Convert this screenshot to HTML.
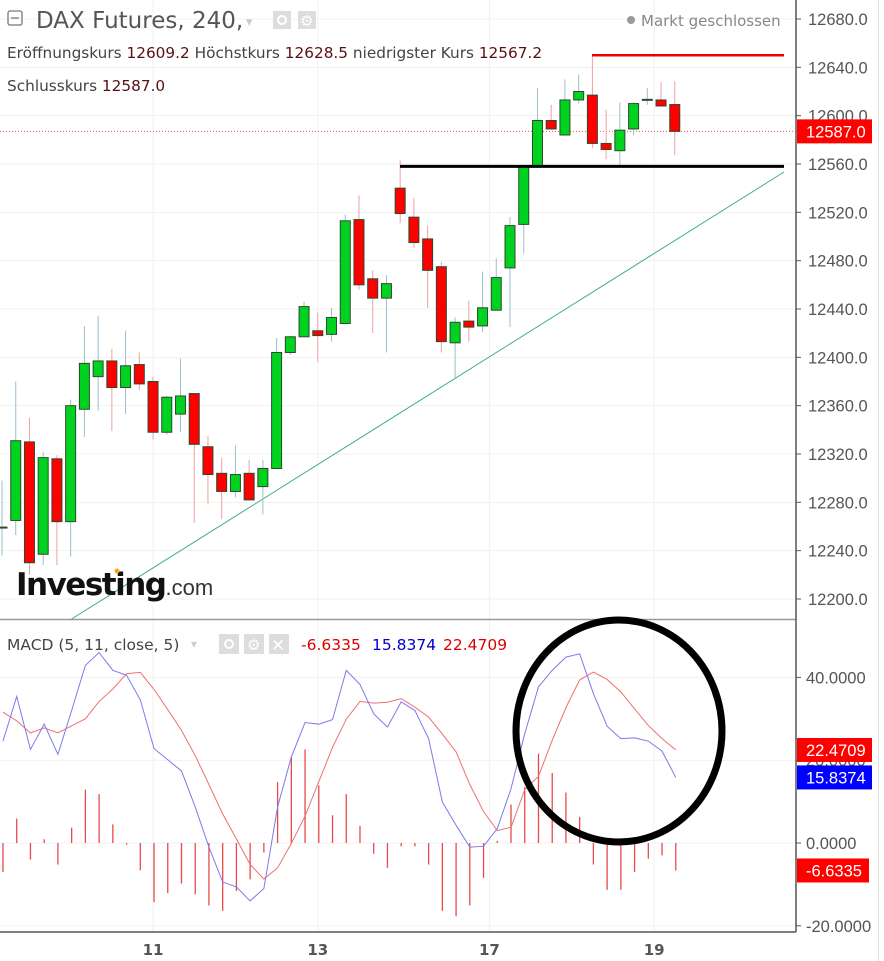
<!DOCTYPE html>
<html><head><meta charset="utf-8">
<style>
html,body{margin:0;padding:0;background:#fff;}
body{width:884px;height:961px;overflow:hidden;position:relative;font-family:"Liberation Sans","DejaVu Sans",sans-serif;}
svg{position:absolute;left:0;top:0;}
.lbl{font-family:"DejaVu Sans","Liberation Sans",sans-serif;}
</style></head>
<body>
<svg id="chart" width="884" height="961" xmlns="http://www.w3.org/2000/svg" xml:space="preserve"></svg>
<script>
const opens=[12259,12265,12330,12237,12316,12264,12357,12384,12397,12375,12394,12380,12338,12353,12370,12326,12304,12289,12304,12293,12308,12404,12417,12422,12419,12428,12514,12465,12449,12540,12516,12498,12475,12412,12430,12426,12439,12474,12510,12558,12596,12584,12613,12617,12577,12571,12589,12613,12613,12609.2];
const closes=[12259.5,12331,12230,12317,12264,12360,12395,12397,12375,12393,12378,12338,12367,12368,12328,12303,12289,12303,12282,12308,12404,12417,12442,12418,12433,12513,12460,12449,12461,12519,12495,12472,12413,12429,12425,12441,12466,12509,12558,12596,12589,12613,12620,12577,12572,12588,12610,12613.5,12608,12587.0];
const highs=[12298,12380,12350,12322,12319,12365,12426,12434,12407,12422,12404,12384,12368,12399,12370,12335,12317,12327,12315,12315,12416,12418,12446,12437,12441,12518,12534,12472,12468,12563,12532,12509,12479,12433,12447,12471,12482,12516,12558,12623,12609,12630,12634,12650,12605,12611,12611,12623,12628,12628.5];
const lows=[12236,12253,12220,12228,12228,12235,12334,12356,12339,12353,12373,12332,12336,12338,12263,12279,12266,12284,12282,12270,12308,12402,12417,12396,12413,12428,12456,12420,12404,12511,12491,12441,12404,12383,12413,12421,12439,12425,12486,12558,12589,12584,12610,12573,12564,12557,12584,12609,12608,12567.2];
const macd=[24.6,35.4,22.6,28.7,21.4,32.0,42.9,46.0,41.7,40.5,34.6,22.8,20.1,17.4,8.7,-1.0,-9.4,-10.6,-14.0,-11.0,8.7,20.8,29.1,28.7,29.8,41.7,38.3,31.2,28.0,34.1,32.0,25.2,9.9,4.3,-1.0,-0.8,3.5,13.1,26.4,37.7,41.7,44.9,45.7,36.1,28.2,25.2,25.4,24.6,22.2,15.8374];
const signal=[31.6,29.5,26.6,27.8,26.6,28.3,30.0,34.2,37.2,40.9,41.2,37.1,32.2,27.2,21.1,14.1,7.0,1.0,-5.2,-8.7,-6.0,-0.1,6.5,14.8,23.1,29.9,34.2,33.8,34.0,34.9,32.8,30.4,26.3,22.0,14.1,7.6,3.0,3.8,12.9,16.1,24.8,32.7,39.4,41.3,39.5,36.5,32.4,28.4,25.2,22.4709];
const hist=[-7.0,5.9,-4.0,0.9,-5.2,3.7,12.9,11.8,4.5,-0.4,-6.6,-14.3,-12.1,-9.8,-12.4,-15.1,-16.4,-11.6,-8.8,-2.3,14.7,20.9,22.6,13.9,6.7,11.8,4.1,-2.6,-6.0,-0.8,-0.8,-5.2,-16.4,-17.7,-15.1,-8.4,0.5,9.3,13.5,21.6,16.9,12.2,6.3,-5.2,-11.3,-11.3,-7.0,-3.8,-3.0,-6.6335];
const priceTicks=[12680,12640,12600,12560,12520,12480,12440,12400,12360,12320,12280,12240,12200];
const macdTicks=[40,20,0,-20];
const dayLabels=["11","13","17","19"];
const dayIndex=[11,23,35.5,47.5];
const supportLevel=12558, resistLevel=12650;

const svg=document.getElementById('chart');
const NS='http://www.w3.org/2000/svg';
function el(tag,attrs,parent){const e=document.createElementNS(NS,tag);for(const k in attrs)e.setAttribute(k,attrs[k]);(parent||svg).appendChild(e);return e;}
const X=i=>2+13.73*i;
const Y=v=>19+(12680-v)*1.2083;
const M=v=>843-v*4.14;

priceTicks.forEach(t=>{const g=el('line',{x1:0,x2:796,y1:Y(t),y2:Y(t),stroke:'#f1f1f1'});

});
macdTicks.forEach(t=>{const g=el('line',{x1:0,x2:796,y1:M(t),y2:M(t),stroke:'#f1f1f1'});

});
dayIndex.forEach((d,k)=>{const g=el('line',{x1:X(d),x2:X(d),y1:0,y2:932,stroke:'#f1f1f1'});


const t=el('text',{x:X(d),y:955,'text-anchor':'middle','font-size':15,'font-weight':'bold',fill:'#555',class:'lbl'});t.textContent=dayLabels[k];

});

const tl=el('line',{x1:70,y1:620,x2:784,y2:172,stroke:'#3fae8e','stroke-width':1});



const cl=el('line',{x1:0,x2:796,y1:Y(closes[49]),y2:Y(closes[49]),stroke:'#e55','stroke-width':1,'stroke-dasharray':'1,2'});



for(let i=0;i<opens.length;i++){
  const up=closes[i]>=opens[i];const x=X(i);
  const w=el('line',{x1:x,x2:x,y1:Y(highs[i]),y2:Y(lows[i]),stroke:up?'#9bbfcc':'#f0a0a0','stroke-width':1});
  
  
  const top=Y(Math.max(opens[i],closes[i])),bot=Y(Math.min(opens[i],closes[i]));
  const b=el('rect',{x:x-5,y:top,width:10,height:Math.max(1,bot-top),fill:up?'#00d31f':'#f00',stroke:'#2c4a2c','stroke-width':1});
  
  
}
const sl=el('line',{x1:400,x2:784,y1:Y(supportLevel),y2:Y(supportLevel),stroke:'#000','stroke-width':3});


const rl=el('line',{x1:592,x2:784,y1:Y(resistLevel),y2:Y(resistLevel),stroke:'#e00','stroke-width':2.5});



const sep=el('line',{x1:0,x2:796,y1:619.5,y2:619.5,stroke:'#999','stroke-width':1.5});


const ya=el('line',{x1:796,x2:796,y1:0,y2:932,stroke:'#555','stroke-width':1.5});


const xa=el('line',{x1:0,x2:796,y1:932,y2:932,stroke:'#555','stroke-width':1.5});


const re=el('line',{x1:878.5,x2:878.5,y1:0,y2:961,stroke:'#ddd','stroke-width':1});



priceTicks.forEach(t=>{const k=el('line',{x1:796,x2:801,y1:Y(t),y2:Y(t),stroke:'#555'});


const s=el('text',{x:808,y:Y(t)+6,'font-size':16.5,fill:'#555'});s.textContent=t.toFixed(1);

});
macdTicks.forEach(t=>{const k=el('line',{x1:796,x2:801,y1:M(t),y2:M(t),stroke:'#555'});


const s=el('text',{x:806,y:M(t)+6,'font-size':16.5,fill:'#555'});s.textContent=t.toFixed(4);

});

for(let i=0;i<hist.length;i++){const h=el('line',{x1:X(i)+1,x2:X(i)+1,y1:M(0),y2:M(hist[i]),stroke:'#e84a4a','stroke-width':1.3});

}
const pts=a=>a.map((v,i)=>X(i)+1+','+M(v)).join(' ');
const sg=el('polyline',{points:pts(signal),fill:'none',stroke:'#f07070','stroke-width':1});


const ml=el('polyline',{points:pts(macd),fill:'none',stroke:'#7a7aee','stroke-width':1});



const ci=el('ellipse',{cx:619,cy:731,rx:103,ry:111,fill:'none',stroke:'#000','stroke-width':7});



function box(y,txt,col,name,w){const r=el('rect',{x:797,y:y-12,width:w||76,height:24,fill:col});


const t=el('text',{x:806,y:y+6,'font-size':16.5,fill:'#fff'});t.textContent=txt;

}
box(Y(closes[49]),'12587.0','#f00','last-price-box',75);
box(M(signal[49]),'22.4709','#f00','signal-value-box',75);
box(M(macd[49]),'15.8374','#00f','macd-value-box',75);
box(M(hist[49]),'-6.6335','#f00','histogram-value-box',72);

function txt(x,y,s,size,col,name,extra){const t=el('text',Object.assign({x:x,y:y,'font-size':size,fill:col,class:'lbl'},extra||{}));t.textContent=s;

return t;}
const cb=el('rect',{x:8,y:11,width:14,height:14,rx:2,fill:'none',stroke:'#777','stroke-width':1.3});


el('line',{x1:11,x2:19,y1:18,y2:18,stroke:'#777','stroke-width':1.3});
txt(36,28,'DAX Futures, 240,',23,'#555','chart-title');
txt(246,26,'▾',13,'#ccc','title-dropdown');
const e1=el('rect',{x:273,y:11,width:18,height:18,fill:'#ddd'});
el('circle',{cx:282,cy:20,r:4,fill:'none',stroke:'#fff','stroke-width':2});
const g1=el('rect',{x:298,y:11,width:18,height:18,fill:'#ddd'});
txt(300,26,'⚙',15,'#fff','settings-icon');
const info=el('text',{x:7,y:58,'font-size':15.3,fill:'#444',class:'lbl'});


info.innerHTML='Eröffnungskurs <tspan fill="#5a1010">12609.2</tspan>  Höchstkurs <tspan fill="#5a1010">12628.5</tspan>  niedrigster Kurs <tspan fill="#5a1010">12567.2</tspan>';
const info2=el('text',{x:7,y:91,'font-size':15.3,fill:'#444',class:'lbl'});


info2.innerHTML='Schlusskurs <tspan fill="#5a1010">12587.0</tspan>';
const dot=el('circle',{cx:631,cy:20,r:4,fill:'#999'});
txt(641,26,'Markt geschlossen',15,'#888','market-status');

txt(7,650,'MACD (5, 11, close, 5)',15.5,'#444','macd-title');
txt(191,648,'▾',12,'#ccc','macd-dropdown');
[219,244,269].forEach((x,k)=>{const r=el('rect',{x:x,y:634,width:20,height:20,fill:'#ddd'});

});
el('circle',{cx:229,cy:644,r:4,fill:'none',stroke:'#fff','stroke-width':2});
txt(247,650,'⚙',15,'#fff','macd-settings-icon');
txt(271,651,'✕',17,'#fff','macd-close-icon');
txt(301,650,'-6.6335',15.5,'#d00','macd-hist-value');
txt(372,650,'15.8374',15.5,'#00c','macd-value');
txt(443,650,'22.4709',15.5,'#d00','macd-signal-value');

const wm=el('text',{x:16,y:595,'font-size':31,'font-weight':'bold',fill:'#111','font-family':'DejaVu Sans, sans-serif','letter-spacing':'-1.5'});


wm.innerHTML='Investing<tspan font-size="22" font-weight="normal" fill="#333" font-family="Liberation Sans, sans-serif" letter-spacing="0">.com</tspan>';
el('circle',{cx:117,cy:571,r:2.5,fill:'#f5a623'});
</script>
</body></html>
